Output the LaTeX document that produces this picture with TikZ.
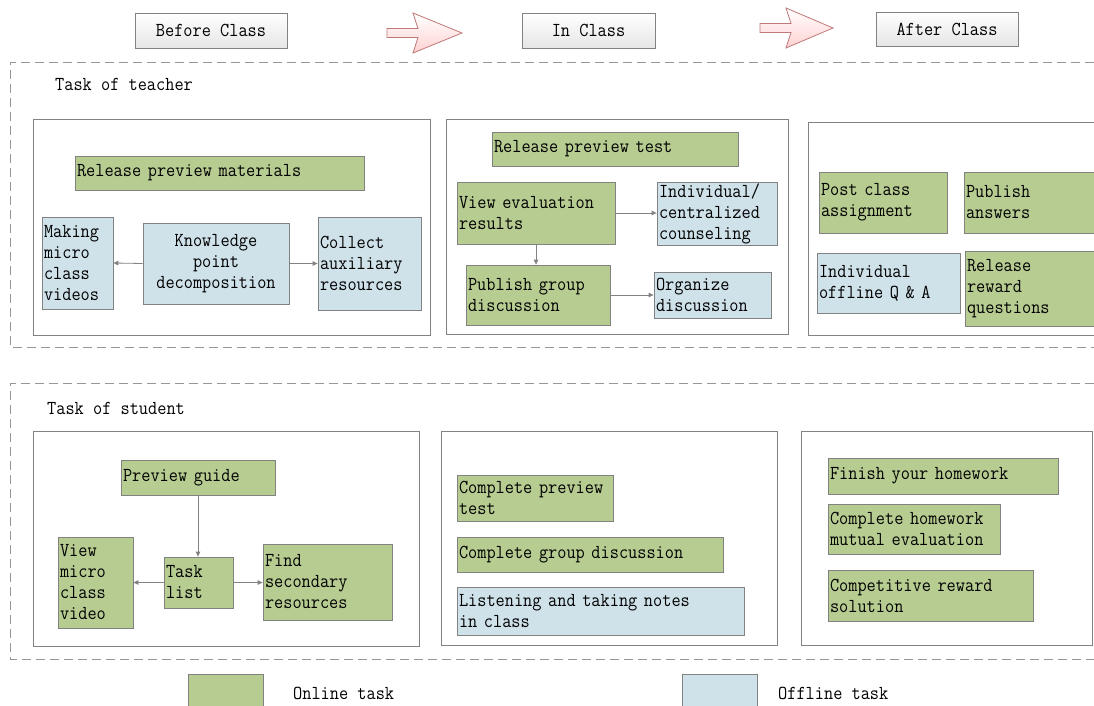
\documentclass[tikz,border=0pt]{standalone}
\usepackage{fontspec}
\setmonofont{Latin Modern Mono}[FakeStretch=0.9]
\usetikzlibrary{arrows.meta}
\definecolor{gfill}{RGB}{183,204,145}
\definecolor{bfill}{RGB}{207,225,233}
\definecolor{edge}{RGB}{130,130,130}
\definecolor{dashc}{RGB}{150,150,150}
\definecolor{arrowedge}{RGB}{190,120,120}
\tikzset{
  box/.style={draw=edge, line width=0.8pt, inner xsep=2pt, inner ysep=0pt, align=left},
  gbox/.style={box, fill=gfill},
  bbox/.style={box, fill=bfill},
  panel/.style={draw=edge, line width=0.8pt, inner sep=0pt},
  headbox/.style={draw=edge, line width=0.8pt, top color=white, bottom color=black!10, inner sep=0pt},
  dashline/.style={draw=dashc, line width=0.8pt, dash pattern=on 9pt off 5pt},
  conn/.style={draw=edge, line width=0.8pt, -{Triangle[length=5pt,width=4.5pt]}},
  bigarrow/.style={draw=arrowedge, line width=0.8pt, top color=white, bottom color=red!18},
  lbl/.style={inner sep=0pt, anchor=west}
}
\begin{document}
\begin{tikzpicture}[x=1pt,y=-1pt, font=\ttfamily\fontsize{19.8}{21}\selectfont]
\useasboundingbox (0,0) rectangle (1094,706);
\clip (0,0) rectangle (1094,706);
\fill[white] (0,0) rectangle (1094,706);

% header
\node[headbox, minimum width=152pt, minimum height=35pt] (bc) at (211,30.5) {Before Class};
\node[headbox, minimum width=133pt, minimum height=35pt] (ic) at (588.5,30.5) {In Class};
\node[headbox, minimum width=142pt, minimum height=34pt] (ac) at (947,29) {After Class};
\draw[bigarrow] (387,28.5) -- (418,28.5) -- (413,13) -- (462,33) -- (413,53) -- (418,37.5) -- (387,37.5) -- cycle;
\draw[bigarrow] (760,23.5) -- (791,23.5) -- (786,8) -- (833,28) -- (786,48) -- (791,32.5) -- (760,32.5) -- cycle;

% teacher region
\draw[dashline] (1094,62) -- (10,62) -- (10,347) -- (1094,347);
\node[lbl] (tt) at (55,84) {Task of teacher};

\node[panel, minimum width=397pt, minimum height=216pt] (p1) at (231.5,227) {};
\node[panel, minimum width=342pt, minimum height=215pt] (p2) at (617,226.5) {};
\node[panel, minimum width=300pt, minimum height=213pt] (p3) at (958,228.5) {};

\node[gbox, minimum height=34pt, text width=285pt] (rpm) at (219.5,173) {Release preview materials};
\node[bbox, minimum height=92pt, text width=67pt] (mmv) at (77.5,263) {Making\\micro\\class\\videos};
\node[bbox, minimum height=81pt, text width=142pt, align=center] (kpd) at (216,263.5) {Knowledge\\point\\decomposition};
\node[bbox, minimum height=93pt, text width=99pt] (car) at (369.5,263.5) {Collect\\auxiliary\\resources};
\draw[conn] (kpd.west) -- (mmv.east);
\draw[conn] (kpd.east) -- (car.west);

\node[gbox, minimum height=34pt, text width=242pt] (rpt) at (615,149) {Release preview test};
\node[gbox, minimum height=62pt, text width=154pt] (ver) at (536,213) {View evaluation\\results};
\node[bbox, minimum height=63pt, text width=116pt] (icc) at (717,213.5) {Individual/\\centralized\\counseling};
\node[gbox, minimum height=60pt, text width=140pt] (pgd) at (538,295) {Publish group\\discussion};
\node[bbox, minimum height=46pt, text width=113pt] (org) at (712.5,295) {Organize\\discussion};
\draw[conn] (ver.east) -- (ver.east -| icc.west);
\draw[conn] (ver.south) -- (ver.south |- pgd.north);
\draw[conn] (pgd.east) -- (pgd.east -| org.west);

\node[gbox, minimum height=61pt, text width=124pt] (pca) at (883,202.5) {Post class\\assignment};
\node[gbox, minimum height=61pt, text width=130pt] (pa) at (1031,202.5) {Publish\\answers};
\node[bbox, minimum height=60pt, text width=139pt] (ioq) at (888.5,283) {Individual\\offline Q \& A};
\node[gbox, minimum height=75pt, text width=129pt] (rrq) at (1031.5,288.5) {Release\\reward\\questions};

% student region
\draw[dashline] (1094,383) -- (10,383) -- (10,659) -- (1094,659);
\node[lbl] (ts) at (47,408) {Task of student};

\node[panel, minimum width=386pt, minimum height=215pt] (s1) at (226,538.5) {};
\node[panel, minimum width=336pt, minimum height=214pt] (s2) at (609,538) {};
\node[panel, minimum width=291pt, minimum height=214pt] (s3) at (946.5,538) {};

\node[gbox, minimum height=35pt, text width=150pt] (pg) at (198,477.5) {Preview guide};
\node[gbox, minimum height=91pt, text width=71pt] (vmcv) at (95.5,582.5) {View\\micro\\class\\video};
\node[gbox, minimum height=51pt, text width=65pt] (tl) at (198.5,582.5) {Task\\list};
\node[gbox, minimum height=76pt, text width=125pt] (fsr) at (327.5,582) {Find\\secondary\\resources};
\draw[conn] (pg.south) -- (pg.south |- tl.north);
\draw[conn] (tl.west) -- (tl.west -| vmcv.east);
\draw[conn] (tl.east) -- (tl.east -| fsr.west);

\node[gbox, minimum height=46pt, text width=152pt] (cpt) at (535,498) {Complete preview\\test};
\node[gbox, minimum height=35pt, text width=262pt] (cgd) at (590,554.5) {Complete group discussion};
\node[bbox, minimum height=48pt, text width=283pt] (ltn) at (600.5,611) {Listening and taking notes\\in class};

\node[gbox, minimum height=36pt, text width=226pt] (fyh) at (943,476) {Finish your homework};
\node[gbox, minimum height=50pt, text width=168pt] (chme) at (914,529) {Complete homework\\mutual evaluation};
\node[gbox, minimum height=51pt, text width=201pt] (crs) at (930.5,595.5) {Competitive reward\\solution};

% legend
\node[gbox, minimum width=75pt, minimum height=38pt, text width=71pt] (lg) at (225.5,693) {};
\node[lbl] (lgt) at (293,693) {Online task};
\node[bbox, minimum width=75pt, minimum height=38pt, text width=71pt] (lb) at (719.5,693) {};
\node[lbl] (lbt) at (778,693) {Offline task};
\end{tikzpicture}
\end{document}
